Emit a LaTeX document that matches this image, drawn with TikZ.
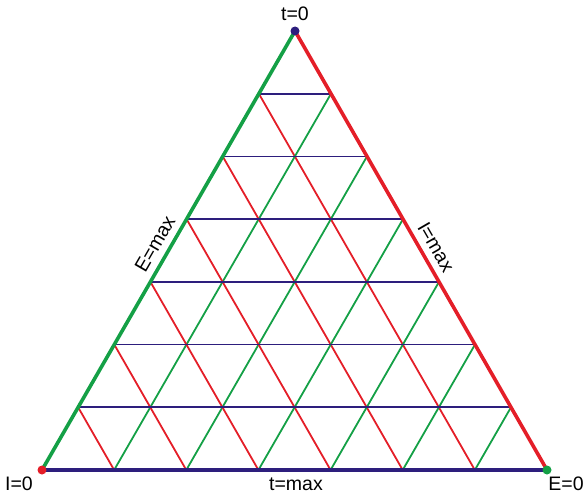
\documentclass[tikz,border=0pt]{standalone}
\usepackage{fontspec}
\setmainfont{Liberation Sans}
\usetikzlibrary{calc}
\definecolor{tgreen}{RGB}{20,160,70}
\definecolor{tred}{RGB}{228,30,40}
\definecolor{tnavy}{RGB}{45,30,125}
\tikzset{
  edgeline/.style={line width=3.6pt},
  gridline/.style={line width=1.8pt},
  lbl/.style={font=\fontsize{19.5}{22}\selectfont, inner sep=0pt},
  corner/.style={circle, inner sep=0pt, minimum size=9pt}
}
\begin{document}
\begin{tikzpicture}[x=1pt,y=-1pt]
\useasboundingbox (0,0) rectangle (587,495);
\coordinate (A) at (295,31);
\coordinate (B) at (42,470);
\coordinate (C) at (547,470);
\foreach \k in {1,...,6}{
  \coordinate (L\k) at ($(A)!\k/7!(B)$);
  \coordinate (R\k) at ($(A)!\k/7!(C)$);
  \coordinate (D\k) at ($(B)!\k/7!(C)$);
}
% grid lines
\foreach \k [evaluate=\k as \m using int(7-\k)] in {1,...,6}{
  \draw[gridline, tred] (L\k) -- (D\m);
  \draw[gridline, tgreen] (R\k) -- (D\k);
}
\foreach \k in {1,...,6}{
  \draw[gridline, tnavy] (L\k) -- (R\k);
}
% edges
\draw[edgeline, tgreen] (B) -- (A);
\draw[edgeline, tred] (A) -- (C);
\draw[edgeline, tnavy] (B) -- (C);
% corner dots
\node[corner, fill=tnavy] (dA) at (A) {};
\node[corner, fill=tred] (dB) at (B) {};
\node[corner, fill=tgreen] (dC) at (C) {};
% labels
\node[lbl] (t0) at (295,14) {t=0};
\node[lbl] (I0) at (19,484) {I=0};
\node[lbl] (E0) at (566,484) {E=0};
\node[lbl] (tmax) at (296,484) {t=max};
\node[lbl, rotate=60] (Emax) at (155,244) {E=max};
\node[lbl, rotate=-60] (Imax) at (436,247) {I=max};
\end{tikzpicture}
\end{document}
